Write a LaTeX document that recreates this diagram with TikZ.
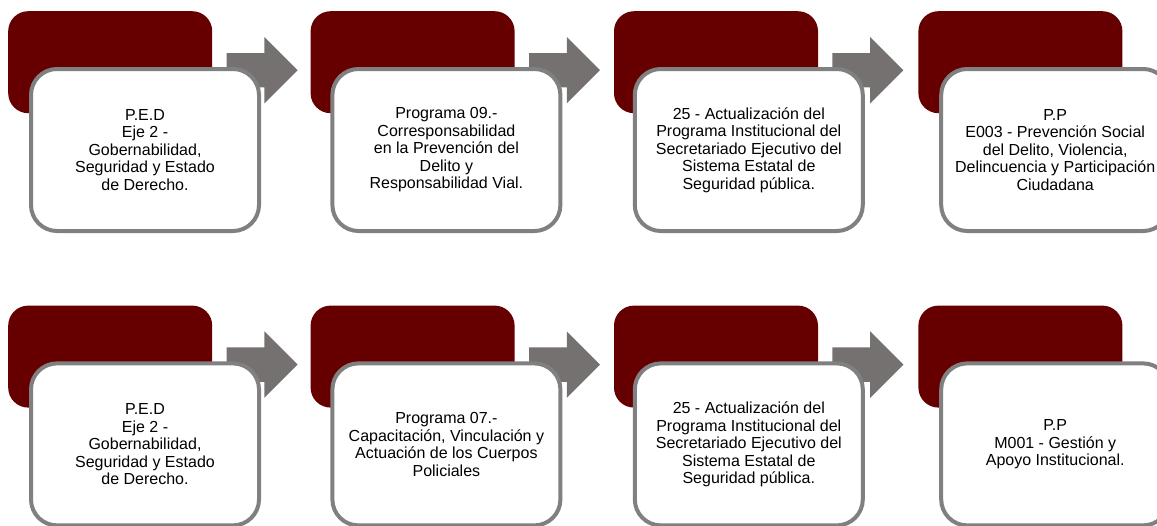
\documentclass[tikz,border=0pt]{standalone}
\usepackage{fontspec}
\setmainfont{Liberation Sans}
\usetikzlibrary{positioning}
\usetikzlibrary{shapes.arrows}

\definecolor{headred}{RGB}{102,0,0}
\definecolor{cardline}{RGB}{128,128,128}
\definecolor{flowgray}{RGB}{118,113,113}

\tikzset{
  head/.style={fill=headred, rounded corners=20pt, minimum width=204pt, minimum height=102pt, inner sep=0pt},
  card/.style={draw=cardline, line width=4pt, fill=white, rounded corners=26pt, minimum width=228pt, minimum height=162pt, align=center, font=\fontsize{16}{17.5}\selectfont},
  flow/.style={single arrow, fill=flowgray, single arrow head extend=16pt, inner xsep=0pt, inner ysep=17pt, minimum height=71pt, minimum width=66pt}
}

\begin{document}
\begin{tikzpicture}
\useasboundingbox (0pt,0pt) rectangle (1157pt,-525pt);

% top row
\node (H1) [head, anchor=north west] at (8pt,-11pt) {};
\node (H2) [head, right=98pt of H1] {};
\node (H3) [head, right=99pt of H2] {};
\node (H4) [head, right=100pt of H3] {};

% bottom row
\node (H5) [head, below=192pt of H1] {};
\node (H6) [head, right=98pt of H5] {};
\node (H7) [head, right=99pt of H6] {};
\node (H8) [head, right=100pt of H7] {};

% arrows
\node (F1) [flow, right=14pt of H1, yshift=-8pt] {};
\node (F2) [flow, right=14pt of H2, yshift=-8pt] {};
\node (F3) [flow, right=14pt of H3, yshift=-8pt] {};
\node (F5) [flow, right=14pt of H5, yshift=-8pt] {};
\node (F6) [flow, right=14pt of H6, yshift=-8pt] {};
\node (F7) [flow, right=14pt of H7, yshift=-8pt] {};

% cards
\node (C1) [card, below right=56pt and 21pt of H1.north west] {P.E.D\\Eje 2 -\\Gobernabilidad,\\Seguridad y Estado\\de Derecho.};
\node (C2) [card, below right=56pt and 20pt of H2.north west] {Programa 09.-\\Corresponsabilidad\\en la Prevención del\\Delito y\\Responsabilidad Vial.};
\node (C3) [card, below right=56pt and 19pt of H3.north west] {25 - Actualización del\\Programa Institucional del\\Secretariado Ejecutivo del\\Sistema Estatal de\\Seguridad pública.};
\node (C4) [card, below right=56pt and 21pt of H4.north west] {P.P\\E003 - Prevención Social\\del Delito, Violencia,\\Delincuencia y Participación\\Ciudadana};

\node (C5) [card, below right=56pt and 21pt of H5.north west] {P.E.D\\Eje 2 -\\Gobernabilidad,\\Seguridad y Estado\\de Derecho.};
\node (C6) [card, below right=56pt and 20pt of H6.north west] {Programa 07.-\\Capacitación, Vinculación y\\Actuación de los Cuerpos\\Policiales};
\node (C7) [card, below right=56pt and 19pt of H7.north west] {25 - Actualización del\\Programa Institucional del\\Secretariado Ejecutivo del\\Sistema Estatal de\\Seguridad pública.};
\node (C8) [card, below right=56pt and 21pt of H8.north west] {P.P\\M001 - Gestión y\\Apoyo Institucional.};
\end{tikzpicture}
\end{document}
